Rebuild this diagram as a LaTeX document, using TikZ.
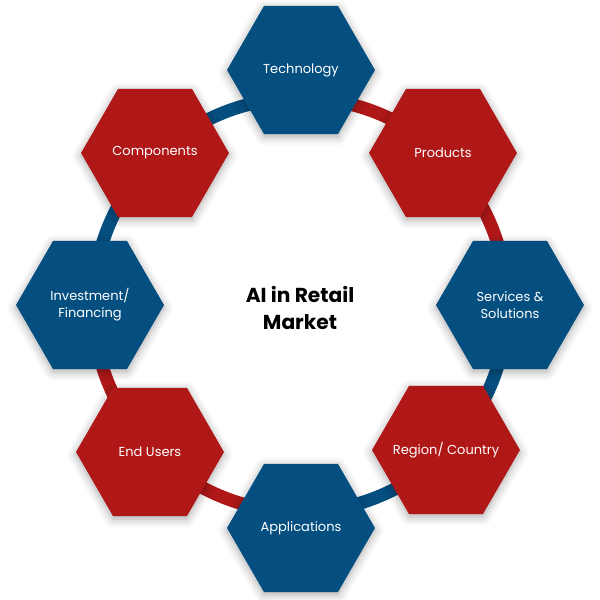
\documentclass[tikz,border=0pt]{standalone}
\usepackage{fontspec}
\setmainfont{Poppins}
\usetikzlibrary{shapes.geometric, shadows.blur, calc}
\definecolor{retailblue}{RGB}{5, 79, 128}
\definecolor{retailred}{RGB}{176, 24, 24}

\begin{document}
\begin{tikzpicture}[
    x=0.02cm, y=0.02cm,
    hexnode/.style={
        regular polygon,
        regular polygon sides=6,
        fill=#1,
        minimum size=2.96cm,
        inner sep=-14pt,
        text=white,
        align=center,
        font=\fontsize{7.4}{9.6}\selectfont,
        blur shadow={shadow xshift=0pt, shadow yshift=-1.5pt, shadow blur radius=5pt, shadow opacity=35}
    },
    ring/.style={line width=7.4pt, draw=#1},
    title/.style={align=center, font=\bfseries\fontsize{11.5}{15.3}\selectfont}
]
\useasboundingbox (0,0) rectangle (600,600);

% Ring in four quarters
\coordinate (hub) at (300,295);
\draw[ring=retailred] ([shift={(0:4.14cm)}]hub) arc[start angle=0, end angle=90, radius=4.14cm];
\draw[ring=retailblue] ([shift={(90:4.14cm)}]hub) arc[start angle=90, end angle=180, radius=4.14cm];
\draw[ring=retailred] ([shift={(180:4.14cm)}]hub) arc[start angle=180, end angle=270, radius=4.14cm];
\draw[ring=retailblue] ([shift={(270:4.14cm)}]hub) arc[start angle=270, end angle=360, radius=4.14cm];

% Central title
\node[title] (market) at (300,292) {AI in Retail\\Market};

% Hexagons around the ring
\node[hexnode=retailblue] (technology) at (301,530) {Technology};
\node[hexnode=retailred] (products) at (443,447) {Products};
\node[hexnode=retailblue] (services) at (510,295) {Services \&\\Solutions};
\node[hexnode=retailred] (region) at (446,150) {Region/ Country};
\node[hexnode=retailblue] (applications) at (301,72) {Applications};
\node[hexnode=retailred] (endusers) at (150,148) {End Users};
\node[hexnode=retailblue] (investment) at (90,295) {Investment/\\Financing};
\node[hexnode=retailred] (components) at (155,447) {Components};

\end{tikzpicture}
\end{document}
